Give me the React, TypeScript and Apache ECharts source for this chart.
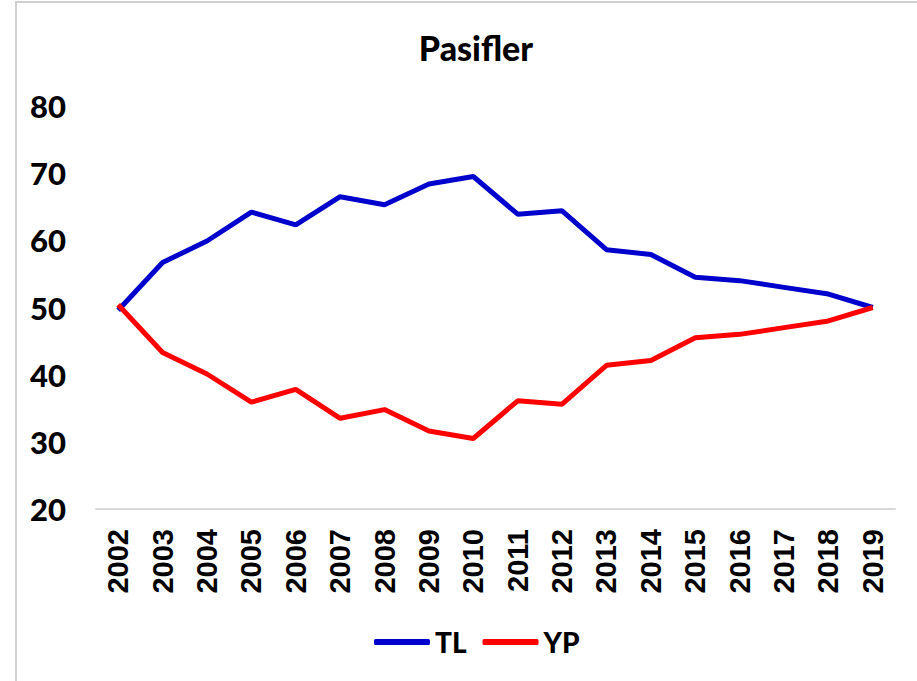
import React, { useEffect, useRef } from "react";
import * as echarts from "echarts";

const years = ["2002","2003","2004","2005","2006","2007","2008","2009","2010","2011","2012","2013","2014","2015","2016","2017","2018","2019"];
const tlValues = [49.6, 56.7, 59.9, 64.2, 62.3, 66.5, 65.3, 68.4, 69.5, 63.9, 64.4, 58.6, 57.9, 54.5, 54.0, 53.0, 52.0, 50.0];
const ypValues = [50.4, 43.3, 40.1, 35.9, 37.8, 33.5, 34.8, 31.6, 30.5, 36.1, 35.6, 41.4, 42.1, 45.5, 46.0, 47.0, 48.0, 50.0];
const yTicks = { min: 20, max: 80, interval: 10 };

const calibriLike = "Lato, 'Open Sans', sans-serif";
const arialLike = "'Liberation Sans', Arial, sans-serif";

export default function App() {
  const ref = useRef<HTMLDivElement>(null);
  useEffect(() => {
    if (!ref.current) return;
    const chart = echarts.init(ref.current, undefined, { renderer: "svg" });
    chart.setOption({
      animation: false,
      backgroundColor: "#ffffff",
      title: {
        text: "Pasifler",
        left: 471,
        top: 25,
        textAlign: "center",
        textStyle: { fontFamily: calibriLike, fontWeight: 900, fontSize: 34, color: "#000" },
      },
      graphic: [
        {
          type: "rect",
          shape: { x: 16, y: 2, width: 1200, height: 1200 },
          style: { fill: "none", stroke: "#d0d0d0", lineWidth: 2 },
          silent: true,
        },
      ],
      legend: {
        left: 369,
        top: 623,
        itemWidth: 56,
        itemHeight: 6,
        itemGap: 16,
        icon: "roundRect",
        textStyle: { fontFamily: calibriLike, fontWeight: 900, fontSize: 28, color: "#000" },
        data: ["TL", "YP"],
      },
      grid: { left: 96, right: 22, top: 106, bottom: 172, containLabel: false },
      xAxis: {
        type: "category",
        data: years,
        boundaryGap: true,
        axisLine: { show: true, lineStyle: { color: "#d9d9d9", width: 2 } },
        axisTick: { show: false },
        axisLabel: {
          rotate: 90,
          margin: 20,
          interval: 0,
          fontFamily: arialLike,
          fontWeight: "bold",
          fontSize: 29,
          color: "#000",
        },
        splitLine: { show: false },
      },
      yAxis: {
        type: "value",
        min: yTicks.min,
        max: yTicks.max,
        interval: yTicks.interval,
        axisLine: { show: false },
        axisTick: { show: false },
        splitLine: { show: false },
        axisLabel: {
          margin: 30,
          fontFamily: calibriLike,
          fontWeight: 900,
          fontSize: 31,
          color: "#000",
        },
      },
      series: [
        {
          name: "TL",
          type: "line",
          data: tlValues,
          showSymbol: false,
          symbol: "none",
          lineStyle: { color: "#0000CC", width: 5 },
          itemStyle: { color: "#0000CC" },
          z: 2,
        },
        {
          name: "YP",
          type: "line",
          data: ypValues,
          showSymbol: false,
          symbol: "none",
          lineStyle: { color: "#FF0000", width: 5 },
          itemStyle: { color: "#FF0000" },
          z: 3,
        },
      ],
    });
    return () => chart.dispose();
  }, []);
  return (
    <div
      ref={ref}
      style={{ position: "fixed", left: 0, top: 0, width: 917, height: 681, background: "#fff" }}
    />
  );
}
